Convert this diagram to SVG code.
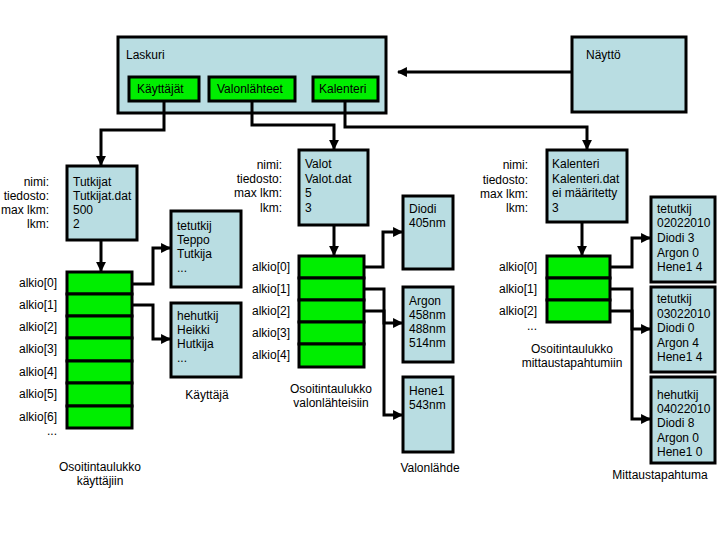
<svg xmlns="http://www.w3.org/2000/svg" width="720" height="540" viewBox="0 0 720 540">
<style>
text{font-family:"Liberation Sans",Arial,sans-serif;font-size:12px;fill:#000}
.r{text-anchor:end}
.c{text-anchor:middle}
.box{fill:#b9dde2;stroke:#000;stroke-width:3}
.g{fill:#00ee00;stroke:#000;stroke-width:3}
.ln{fill:none;stroke:#000;stroke-width:3}
</style>
<defs>
<marker id="ah" viewBox="0 0 10 10" refX="9" refY="5" markerWidth="3.3" markerHeight="3.3" orient="auto" markerUnits="strokeWidth">
<path d="M0,0 L10,5 L0,10 z" fill="#000"/>
</marker>
</defs>
<rect width="720" height="540" fill="#fff"/>

<g id="laskuri">
<rect class="box" x="118" y="37" width="268" height="76"/>
<text x="126" y="59">Laskuri</text>
<rect class="g" x="129" y="77" width="70" height="24"/>
<text x="137" y="93">Käyttäjät</text>
<rect class="g" x="209" y="77" width="86" height="24"/>
<text x="217" y="93">Valonlähteet</text>
<rect class="g" x="313" y="77" width="65" height="24"/>
<text x="319" y="93">Kalenteri</text>
</g>

<g id="naytto">
<rect class="box" x="572" y="37" width="114" height="75"/>
<text x="586" y="59">Näyttö</text>
</g>

<g id="tutkijat">
<text class="r" x="49" y="186">nimi:</text>
<text class="r" x="49" y="200">tiedosto:</text>
<text class="r" x="49" y="214">max lkm:</text>
<text class="r" x="49" y="228">lkm:</text>
<rect class="box" x="67" y="166" width="70" height="74"/>
<text x="73" y="186">Tutkijat</text>
<text x="73" y="200">Tutkijat.dat</text>
<text x="73" y="214">500</text>
<text x="73" y="228">2</text>
</g>

<g id="kayttajat-taulukko">
<rect class="g" x="67" y="272" width="65" height="22"/>
<rect class="g" x="67" y="294" width="65" height="22"/>
<rect class="g" x="67" y="316" width="65" height="22"/>
<rect class="g" x="67" y="338" width="65" height="23"/>
<rect class="g" x="67" y="361" width="65" height="22"/>
<rect class="g" x="67" y="383" width="65" height="23"/>
<rect class="g" x="67" y="406" width="65" height="22"/>
<text class="r" x="57" y="287">alkio[0]</text>
<text class="r" x="57" y="309">alkio[1]</text>
<text class="r" x="57" y="331">alkio[2]</text>
<text class="r" x="57" y="353">alkio[3]</text>
<text class="r" x="57" y="376">alkio[4]</text>
<text class="r" x="57" y="398">alkio[5]</text>
<text class="r" x="57" y="421">alkio[6]</text>
<text class="c" x="52" y="435">...</text>
<text class="c" x="100" y="471">Osoitintaulukko</text>
<text class="c" x="100" y="485">käyttäjiin</text>
</g>

<g id="teppo">
<rect class="box" x="171" y="211" width="70" height="76"/>
<text x="177" y="230">tetutkij</text>
<text x="177" y="244">Teppo</text>
<text x="177" y="258">Tutkija</text>
<text x="177" y="272">...</text>
</g>

<g id="heikki">
<rect class="box" x="171" y="303" width="70" height="74"/>
<text x="177" y="320">hehutkij</text>
<text x="177" y="334">Heikki</text>
<text x="177" y="348">Hutkija</text>
<text x="177" y="362">...</text>
<text class="c" x="207" y="399">Käyttäjä</text>
</g>

<g id="valot">
<text class="r" x="282" y="169">nimi:</text>
<text class="r" x="282" y="183">tiedosto:</text>
<text class="r" x="282" y="197">max lkm:</text>
<text class="r" x="282" y="212">lkm:</text>
<rect class="box" x="299" y="150" width="69" height="75"/>
<text x="305" y="168">Valot</text>
<text x="305" y="183">Valot.dat</text>
<text x="305" y="197">5</text>
<text x="305" y="212">3</text>
</g>

<g id="valot-taulukko">
<rect class="g" x="299" y="256" width="65" height="22"/>
<rect class="g" x="299" y="278" width="65" height="22"/>
<rect class="g" x="299" y="300" width="65" height="22"/>
<rect class="g" x="299" y="322" width="65" height="22"/>
<rect class="g" x="299" y="344" width="65" height="23"/>
<text class="r" x="290" y="271">alkio[0]</text>
<text class="r" x="290" y="293">alkio[1]</text>
<text class="r" x="290" y="315">alkio[2]</text>
<text class="r" x="290" y="337">alkio[3]</text>
<text class="r" x="290" y="359">alkio[4]</text>
<text class="c" x="331" y="393">Osoitintaulukko</text>
<text class="c" x="331" y="407">valonlähteisiin</text>
</g>

<g id="diodi">
<rect class="box" x="403" y="196" width="50" height="73"/>
<text x="409" y="213">Diodi</text>
<text x="409" y="227">405nm</text>
</g>
<g id="argon">
<rect class="box" x="403" y="287" width="50" height="75"/>
<text x="409" y="305">Argon</text>
<text x="409" y="319">458nm</text>
<text x="409" y="333">488nm</text>
<text x="409" y="347">514nm</text>
</g>
<g id="hene1">
<rect class="box" x="403" y="377" width="50" height="75"/>
<text x="409" y="395">Hene1</text>
<text x="409" y="409">543nm</text>
<text class="c" x="430" y="472">Valonlähde</text>
</g>

<g id="kalenteri">
<text class="r" x="528" y="169">nimi:</text>
<text class="r" x="528" y="184">tiedosto:</text>
<text class="r" x="528" y="198">max lkm:</text>
<text class="r" x="528" y="212">lkm:</text>
<rect class="box" x="547" y="150" width="80" height="72"/>
<text x="552" y="168">Kalenteri</text>
<text x="552" y="183">Kalenteri.dat</text>
<text x="552" y="197">ei määritetty</text>
<text x="552" y="212">3</text>
</g>

<g id="kalenteri-taulukko">
<rect class="g" x="547" y="256" width="63" height="22"/>
<rect class="g" x="547" y="278" width="63" height="22"/>
<rect class="g" x="547" y="300" width="63" height="22"/>
<text class="r" x="537" y="271">alkio[0]</text>
<text class="r" x="537" y="293">alkio[1]</text>
<text class="r" x="537" y="315">alkio[2]</text>
<text class="c" x="532" y="330">...</text>
<text class="c" x="572" y="353">Osoitintaulukko</text>
<text class="c" x="572" y="367">mittaustapahtumiin</text>
</g>

<g id="tapahtuma1">
<rect class="box" x="651" y="197" width="64" height="85"/>
<text x="657" y="213">tetutkij</text>
<text x="657" y="227">02022010</text>
<text x="657" y="242">Diodi 3</text>
<text x="657" y="257">Argon 0</text>
<text x="657" y="271">Hene1 4</text>
</g>
<g id="tapahtuma2">
<rect class="box" x="651" y="287" width="64" height="85"/>
<text x="657" y="303">tetutkij</text>
<text x="657" y="318">03022010</text>
<text x="657" y="332">Diodi 0</text>
<text x="657" y="347">Argon 4</text>
<text x="657" y="361">Hene1 4</text>
</g>
<g id="tapahtuma3">
<rect class="box" x="651" y="377" width="64" height="86"/>
<text x="657" y="399">hehutkij</text>
<text x="657" y="413">04022010</text>
<text x="657" y="427">Diodi 8</text>
<text x="657" y="442">Argon 0</text>
<text x="657" y="456">Hene1 0</text>
<text class="c" x="660" y="479">Mittaustapahtuma</text>
</g>

<g id="connectors">
<path class="ln" d="M164,101 V130 H101 V165" marker-end="url(#ah)"/>
<path class="ln" d="M252,101 V125 H334 V149" marker-end="url(#ah)"/>
<path class="ln" d="M345,101 V127 H587 V149" marker-end="url(#ah)"/>
<path class="ln" d="M572,72 H398" marker-end="url(#ah)"/>
<path class="ln" d="M101,240 V271" marker-end="url(#ah)"/>
<path class="ln" d="M132,284 H153 V248 H170" marker-end="url(#ah)"/>
<path class="ln" d="M132,305 H153 V339 H170" marker-end="url(#ah)"/>
<path class="ln" d="M334,225 V255" marker-end="url(#ah)"/>
<path class="ln" d="M364,267 H383 V232 H402" marker-end="url(#ah)"/>
<path class="ln" d="M364,289 H384 V323 H402" marker-end="url(#ah)"/>
<path class="ln" d="M364,311 H384 V415 H402" marker-end="url(#ah)"/>
<path class="ln" d="M582,222 V255" marker-end="url(#ah)"/>
<path class="ln" d="M610,267 H632 V238 H650" marker-end="url(#ah)"/>
<path class="ln" d="M610,289 H632 V329 H650" marker-end="url(#ah)"/>
<path class="ln" d="M610,311 H632 V419 H650" marker-end="url(#ah)"/>
</g>
</svg>
